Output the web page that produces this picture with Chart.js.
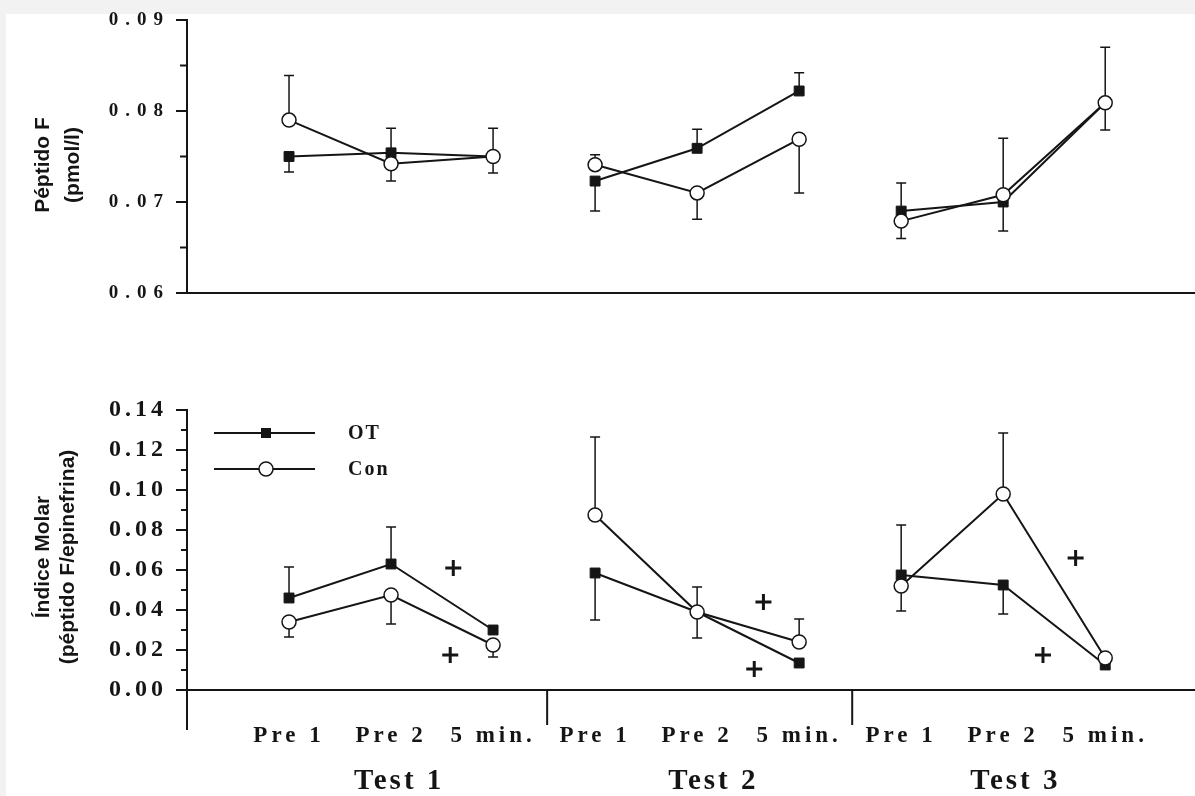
<!DOCTYPE html>
<html>
<head>
<meta charset="utf-8">
<script src="https://cdn.jsdelivr.net/npm/chart.js@4.4.1/dist/chart.umd.min.js"></script>
<style>
  body { margin: 0; background: #f2f2f2; overflow: hidden; }
  #sheet { position: absolute; left: 6px; top: 14px; width: 1189px; height: 782px; background: #fff; }
  #topChart { position: absolute; left: 0; top: 0; }
  #bottomChart { position: absolute; left: 0; top: 390px; }
</style>
</head>
<body>
<div id="sheet"></div>
<canvas id="topChart" width="1195" height="320"></canvas>
<canvas id="bottomChart" width="1195" height="406"></canvas>
<script>
//LABELS
var xTickLabels = ["Pre 1", "Pre 2", "5 min.", "Pre 1", "Pre 2", "5 min.", "Pre 1", "Pre 2", "5 min."];
var testLabels = ["Test 1", "Test 2", "Test 3"];
var testLabelX = [2.06, 5.14, 8.1];
var testBreaks = [3.53, 6.52];
var seriesNames = ["OT", "Con"];

//PEPTIDO F (pmol/l)
var peptTicks = [0.06, 0.07, 0.08, 0.09];
var peptMinor = [0.065, 0.075, 0.085];
var peptOT = [0.0750, 0.0754, 0.0750, 0.0723, 0.0759, 0.0822, 0.0690, 0.0700, 0.0809];
var peptCon = [0.0790, 0.0742, 0.0750, 0.0741, 0.0710, 0.0769, 0.0679, 0.0708, 0.0809];
// end of the error whisker (one-sided), null = none
var peptOTErr = [0.0733, 0.0781, 0.0781, 0.0690, 0.0780, 0.0842, 0.0721, 0.0668, 0.0870];
var peptConErr = [0.0839, 0.0723, 0.0732, 0.0752, 0.0681, 0.0710, 0.0660, 0.0770, 0.0779];

//INDICE MOLAR
var molarTicks = [0, 0.02, 0.04, 0.06, 0.08, 0.10, 0.12, 0.14];
var molarMinor = [0.01, 0.03, 0.05, 0.07, 0.09, 0.11, 0.13];
var molarOT = [0.046, 0.063, 0.030, 0.0585, 0.039, 0.0135, 0.0575, 0.0525, 0.0125];
var molarCon = [0.034, 0.0475, 0.0225, 0.0875, 0.039, 0.024, 0.052, 0.098, 0.016];
var molarOTErr = [0.0615, 0.0815, null, 0.035, 0.0515, null, 0.0825, 0.038, null];
var molarConErr = [0.0265, 0.033, 0.0165, 0.1265, 0.026, 0.0355, 0.0395, 0.1285, null];

// "+" significance marks
var plusX = [2.61, 2.58, 5.65, 5.56, 8.71, 8.39];
var plusY = [0.061, 0.0175, 0.044, 0.0105, 0.066, 0.0175];

var xMax = 9.88;
var ink = "#151515";

// points with a gap between the tests
function toPoints(values) {
  var pts = [];
  for (var i = 0; i < values.length; i++) {
    pts.push({x: i + 1, y: values[i]});
    if (i == 2 || i == 5) pts.push({x: i + 1.5, y: null});
  }
  return pts;
}

function seriesSets(otVals, otErr, conVals, conErr) {
  return [{
    label: seriesNames[1],
    data: toPoints(conVals),
    values: conVals,
    errEnd: conErr,
    borderColor: ink,
    borderWidth: 2,
    pointStyle: "circle",
    pointRadius: 7,
    pointBackgroundColor: "#fff",
    pointBorderColor: ink,
    pointBorderWidth: 1.5,
    tension: 0
  }, {
    label: seriesNames[0],
    data: toPoints(otVals),
    values: otVals,
    errEnd: otErr,
    borderColor: ink,
    borderWidth: 2,
    pointStyle: "rect",
    pointRadius: 7,
    pointBackgroundColor: ink,
    pointBorderColor: ink,
    pointBorderWidth: 1,
    tension: 0
  }];
}

//Error bars drawn under the lines
var errorBars = {
  id: "errorBars",
  beforeDatasetsDraw: function (chart) {
    var ctx = chart.ctx;
    var xs = chart.scales.x;
    var ys = chart.scales.y;
    ctx.save();
    ctx.strokeStyle = ink;
    ctx.lineWidth = 1.5;
    chart.data.datasets.forEach(function (ds) {
      if (!ds.errEnd) return;
      ds.errEnd.forEach(function (end, i) {
        if (end == null) return;
        var x = xs.getPixelForValue(i + 1);
        var y0 = ys.getPixelForValue(ds.values[i]);
        var y1 = ys.getPixelForValue(end);
        ctx.beginPath();
        ctx.moveTo(x, y0);
        ctx.lineTo(x, y1);
        ctx.moveTo(x - 5, y1);
        ctx.lineTo(x + 5, y1);
        ctx.stroke();
      });
    });
    ctx.restore();
  }
};

function minorTicks(chart, list, len) {
  var ctx = chart.ctx;
  var ys = chart.scales.y;
  var left = chart.chartArea.left;
  ctx.save();
  ctx.strokeStyle = ink;
  ctx.lineWidth = 2;
  list.forEach(function (v) {
    var y = ys.getPixelForValue(v);
    ctx.beginPath();
    ctx.moveTo(left - len, y);
    ctx.lineTo(left, y);
    ctx.stroke();
  });
  ctx.restore();
}

function verticalTitle(ctx, lines, x0, gap, yc, font) {
  ctx.save();
  ctx.letterSpacing = "0px";
  ctx.font = font;
  ctx.fillStyle = ink;
  ctx.textAlign = "center";
  ctx.textBaseline = "middle";
  lines.forEach(function (t, k) {
    ctx.save();
    ctx.translate(x0 + k * gap, yc);
    ctx.rotate(-Math.PI / 2);
    ctx.fillText(t, 0, 0);
    ctx.restore();
  });
  ctx.restore();
}

function yAxis(min, max, tickList, font, pad) {
  return {
    type: "linear",
    min: min,
    max: max,
    afterBuildTicks: function (s) { s.ticks = tickList.map(function (v) { return {value: v}; }); },
    afterFit: function (s) {
      s.width = 187;
      s.paddingTop = 0;
      s.paddingBottom = 0;
    },
    ticks: {
      color: ink,
      font: font,
      padding: pad,
      callback: function (v) { return Number(v).toFixed(2); }
    },
    grid: { drawOnChartArea: false, drawTicks: true, tickLength: 11, color: ink, lineWidth: 2 },
    border: { display: true, color: ink, width: 2 }
  };
}

//TOP PANEL
var topExtras = {
  id: "topExtras",
  beforeDraw: function (chart) { chart.ctx.letterSpacing = "7px"; },
  afterDraw: function (chart) {
    minorTicks(chart, peptMinor, 7);
    verticalTitle(chart.ctx, ["Péptido F", "(pmol/l)"], 43, 30, 165, "bold 21px 'Liberation Sans'");
  }
};

new Chart(document.getElementById("topChart"), {
  type: "line",
  data: { datasets: seriesSets(peptOT, peptOTErr, peptCon, peptConErr) },
  options: {
    responsive: false,
    animation: false,
    devicePixelRatio: 1,
    layout: { autoPadding: false, padding: { top: 20, right: 0, bottom: 27, left: 0 } },
    plugins: { legend: { display: false }, tooltip: { enabled: false } },
    scales: {
      x: {
        type: "linear",
        min: 0,
        max: xMax,
        afterFit: function (s) { s.height = 0; },
        ticks: { display: false },
        grid: { display: false, drawTicks: false },
        border: { display: true, color: ink, width: 2 }
      },
      y: yAxis(0.06, 0.09, peptTicks, { family: "'Liberation Serif'", size: 19, weight: "bold" }, 6)
    }
  },
  plugins: [errorBars, topExtras]
});

//BOTTOM PANEL
var bottomExtras = {
  id: "bottomExtras",
  beforeDraw: function (chart) { chart.ctx.letterSpacing = "4px"; },
  afterDraw: function (chart) {
    var ctx = chart.ctx;
    var area = chart.chartArea;
    var xs = chart.scales.x;
    minorTicks(chart, molarMinor, 6);

    ctx.save();
    ctx.strokeStyle = ink;
    ctx.lineWidth = 2;
    // y axis runs on below zero
    ctx.beginPath();
    ctx.moveTo(area.left, area.bottom);
    ctx.lineTo(area.left, area.bottom + 40);
    ctx.stroke();
    // separators between the tests
    testBreaks.forEach(function (b) {
      var x = xs.getPixelForValue(b);
      ctx.beginPath();
      ctx.moveTo(x, area.bottom);
      ctx.lineTo(x, area.bottom + 35);
      ctx.stroke();
    });

    // Test 1..3
    ctx.fillStyle = ink;
    ctx.letterSpacing = "3px";
    ctx.font = "bold 29px 'Liberation Serif'";
    ctx.textAlign = "center";
    ctx.textBaseline = "middle";
    testLabels.forEach(function (t, i) {
      ctx.fillText(t, xs.getPixelForValue(testLabelX[i]) + 2, area.bottom + 92);
    });

    // legend
    var lx = area.left + 27, mx = area.left + 79, tx = area.left + 161;
    [23, 59].forEach(function (dy, k) {
      var y = area.top + dy;
      ctx.beginPath();
      ctx.moveTo(lx, y);
      ctx.lineTo(lx + 101, y);
      ctx.stroke();
      if (k == 0) {
        ctx.fillRect(mx - 5, y - 5, 10, 10);
      } else {
        ctx.beginPath();
        ctx.lineWidth = 1.5;
        ctx.fillStyle = "#fff";
        ctx.arc(mx, y, 7, 0, Math.PI * 2);
        ctx.fill();
        ctx.stroke();
        ctx.fillStyle = ink;
      }
      ctx.letterSpacing = "2px";
      ctx.font = "bold 20px 'Liberation Serif'";
      ctx.textAlign = "left";
      ctx.fillText(seriesNames[k], tx, y + 1);
    });
    ctx.restore();

    verticalTitle(ctx, ["Índice Molar", "(péptido F/epinefrina)"], 43, 25, 167, "bold 21px 'Liberation Sans'");
  }
};

var bottomSets = seriesSets(molarOT, molarOTErr, molarCon, molarConErr);
bottomSets.push({
  type: "scatter",
  label: "+",
  data: plusX.map(function (x, i) { return {x: x, y: plusY[i]}; }),
  showLine: false,
  pointStyle: "cross",
  pointRadius: 8,
  pointBorderWidth: 3,
  pointBorderColor: ink,
  borderColor: ink
});

new Chart(document.getElementById("bottomChart"), {
  type: "line",
  data: { datasets: bottomSets },
  options: {
    responsive: false,
    animation: false,
    devicePixelRatio: 1,
    layout: { autoPadding: false, padding: { top: 20, right: 0, bottom: 0, left: 0 } },
    plugins: { legend: { display: false }, tooltip: { enabled: false } },
    scales: {
      x: {
        type: "linear",
        min: 0,
        max: xMax,
        afterBuildTicks: function (s) {
          s.ticks = xTickLabels.map(function (l, i) { return {value: i + 1}; });
        },
        afterFit: function (s) { s.height = 106; },
        ticks: {
          color: ink,
          autoSkip: false,
          maxRotation: 0,
          minRotation: 0,
          padding: 32,
          font: { family: "'Liberation Serif'", size: 23, weight: "bold" },
          callback: function (v) { return xTickLabels[Math.round(v) - 1]; }
        },
        grid: { display: false, drawTicks: false, tickLength: 0 },
        border: { display: true, color: ink, width: 2 }
      },
      y: yAxis(0, 0.14, molarTicks, { family: "'Liberation Serif'", size: 24, weight: "bold" }, 9)
    }
  },
  plugins: [errorBars, bottomExtras]
});
</script>
</body>
</html>
